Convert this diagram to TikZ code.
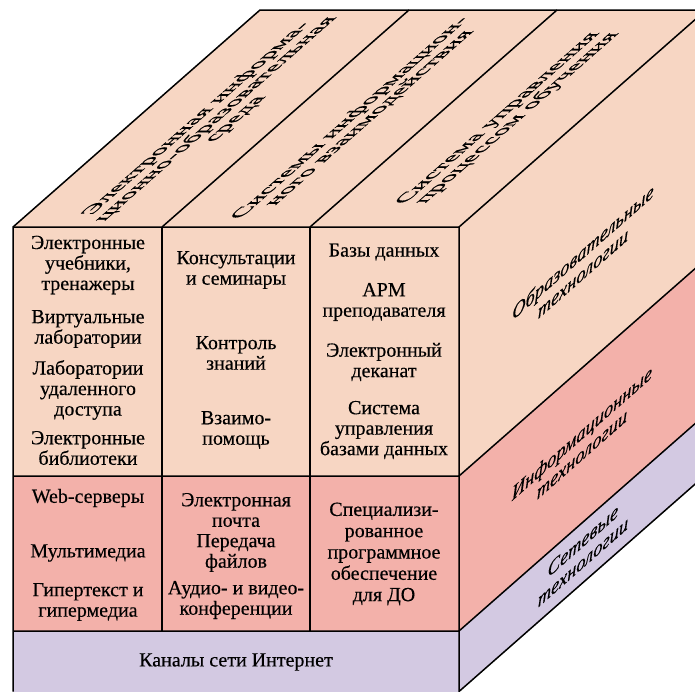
\documentclass[tikz,border=0pt]{standalone}
\usepackage{fontspec}
\setmainfont{Liberation Serif}[FakeBold=0.35]
\definecolor{edu}{RGB}{247,214,195}
\definecolor{inf}{RGB}{243,177,170}
\definecolor{net}{RGB}{211,201,226}
\tikzset{
	cell/.style={align=center, inner sep=0pt, font=\fontsize{20}{20.5}\selectfont},
	toplabel/.style={align=center, inner sep=0pt, font=\fontsize{20}{19.5}\selectfont, cm={1.11,0.975,-1,0,(0,0)}},
	sidelabel/.style={align=center, inner sep=0pt, font=\fontsize{20}{21}\selectfont\itshape, cm={0.92,0.81,0,1,(0,0)}},
	edge/.style={line width=1.5pt}
}

\begin{document}
\begin{tikzpicture}[x=1pt, y=1pt]
\useasboundingbox (0,0) rectangle (695,-691);
\clip (0,0) rectangle (695,-691);

% faces
\fill[edu] (13,-227) -- (459,-227) -- (706,-10) -- (260,-10) -- cycle;
\fill[edu] (459,-227) -- (706,-10) -- (706,-259) -- (459,-476) -- cycle;
\fill[inf] (459,-476) -- (706,-259) -- (706,-414) -- (459,-631) -- cycle;
\fill[net] (459,-631) -- (706,-414) -- (706,-474.5) -- (459,-691.5) -- cycle;
\fill[edu] (13,-227) rectangle (459,-476);
\fill[inf] (13,-476) rectangle (459,-631);
\fill[net] (13,-631) rectangle (459,-691.5);

% edges
\draw[edge] (13,-691.5) -- (13,-227) -- (260,-10) -- (706,-10);
\draw[edge] (13,-227) -- (459,-227) -- (706,-10);
\draw[edge] (459,-227) -- (459,-691.5) -- (706,-474.5);
\draw[edge] (162,-227) -- (409,-10);
\draw[edge] (310,-227) -- (557,-10);
\foreach \y in {476,631}{
	\draw[edge] (13,-\y) -- (459,-\y) -- ++(247,217);
	}
\foreach \x in {162,310}{
	\draw[edge] (\x,-227) -- (\x,-631);
	}
%\draw[edge] (13,-691.5) -- (459,-691.5);

% top face
\node[toplabel] (srd) at (216,-119) {Электронная информа-\\ционно-образовательная\\среда};
\node[toplabel] (siv) at (360,-118) {Системы информацион-\\ного взаимодействия};
\node[toplabel] (sup) at (508,-118) {Система управления\\процессом обучения};

% right face
\node[sidelabel] (obr) at (583,-262) {Образовательные\\технологии};
\node[sidelabel] (inft) at (582,-443) {Информационные\\технологии};
\node[sidelabel] (sett) at (583,-551) {Сетевые\\технологии};

% front, education row
\node[cell] (uch) at (88,-265) {Электронные\\учебники,\\тренажеры};
\node[cell] (vir) at (88,-329) {Виртуальные\\лаборатории};
\node[cell] (lab) at (88,-390) {Лаборатории\\удаленного\\доступа};
\node[cell] (bib) at (88,-448) {Электронные\\библиотеки};
\node[cell] (kon) at (236,-270) {Консультации\\и семинары};
\node[cell] (kzn) at (236,-353) {Контроль\\знаний};
\node[cell] (vzm) at (236,-430) {Взаимо-\\помощь};
\node[cell] (bd) at (384,-252) {Базы данных};
\node[cell] (arm) at (384,-302) {АРМ\\преподавателя};
\node[cell] (dek) at (384,-362) {Электронный\\деканат};
\node[cell] (subd) at (384,-430) {Система\\управления\\базами данных};

% front, information row
\node[cell] (web) at (88,-498) {Web-серверы};
\node[cell] (mm) at (88,-553) {Мультимедиа};
\node[cell] (gip) at (88,-602) {Гипертекст и\\гипермедиа};
\node[cell] (poch) at (236,-510) {Электронная\\почта};
\node[cell] (fil) at (236,-553) {Передача\\файлов};
\node[cell] (aud) at (236,-600) {Аудио- и видео-\\конференции};
\node[cell, font=\fontsize{20}{21.3}\selectfont] (spo) at (384,-554) {Специализи-\\рованное\\программное\\обеспечение\\для ДО};

% front, network row
\node[cell] (kan) at (236,-662) {Каналы сети Интернет};
\end{tikzpicture}
\end{document}
